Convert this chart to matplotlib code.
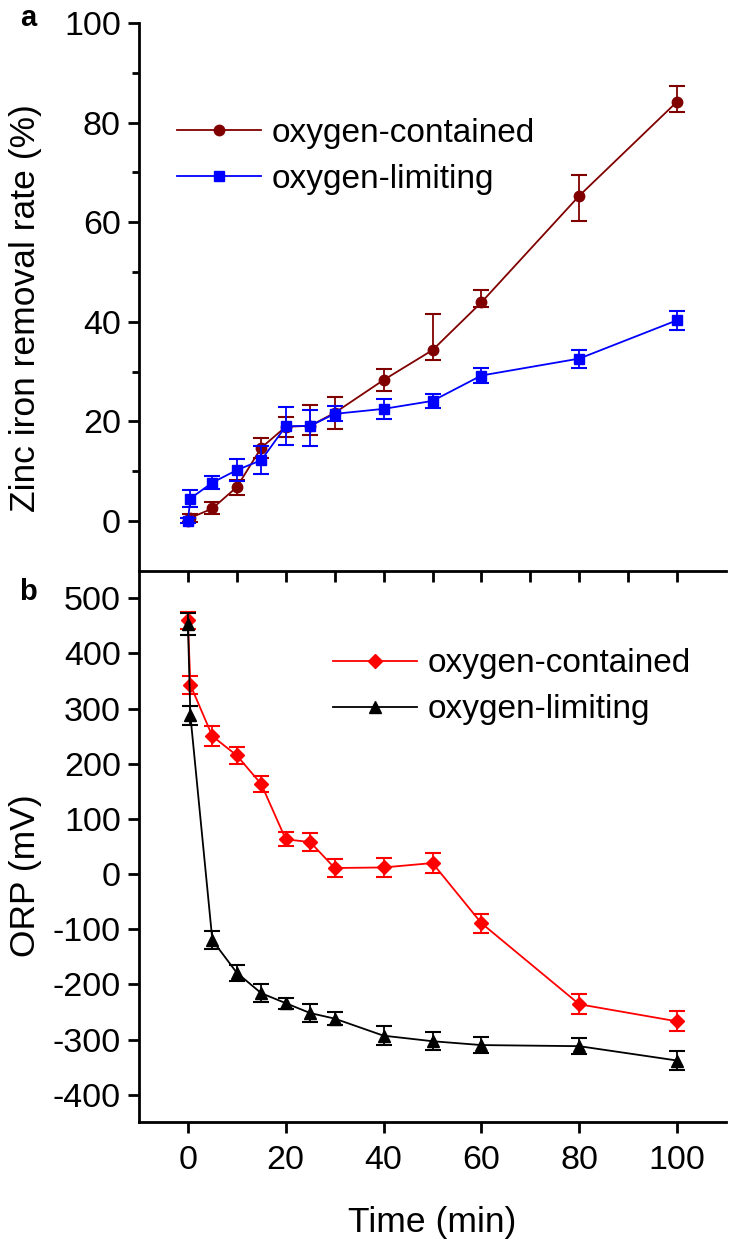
import matplotlib
matplotlib.use("Agg")
import matplotlib.pyplot as plt
from matplotlib.ticker import MultipleLocator, FixedLocator

plt.rcParams['font.family'] = ['Liberation Sans', 'DejaVu Sans']
plt.rcParams['axes.unicode_minus'] = False

# ---- data ----
time_min = [0, 0.5, 5, 10, 15, 20, 25, 30, 40, 50, 60, 80, 100]

zn_contained = [0, 0.6, 2.5, 6.8, 14.7, 18.9, 19.1, 21.7, 28.3, 34.3, 43.9, 65.3, 84.2]
zn_contained_err_lo = [0.5, 0.8, 1.2, 1.5, 2.0, 2.0, 1.8, 3.3, 2.2, 2.0, 0.9, 5.0, 2.0]
zn_contained_err_hi = [0.5, 0.8, 1.2, 1.5, 2.0, 2.0, 4.1, 3.2, 2.2, 7.2, 2.5, 4.2, 3.1]

zn_limiting = [0, 4.5, 7.7, 10.2, 12.2, 19.0, 19.1, 21.5, 22.5, 24.1, 29.2, 32.6, 40.3]
zn_limiting_err_lo = [0.5, 1.7, 1.3, 2.2, 2.8, 3.8, 4.1, 1.5, 2.0, 1.4, 1.5, 1.8, 1.9]
zn_limiting_err_hi = [0.5, 1.7, 1.3, 2.2, 2.8, 3.8, 3.2, 1.5, 2.0, 1.4, 1.5, 1.8, 1.9]

orp_contained = [460, 343, 250, 215, 163, 63, 58, 11, 12, 20, -89, -236, -267]
orp_contained_err = [16, 16, 18, 16, 15, 13, 17, 16, 17, 18, 17, 18, 18]

orp_limiting = [454, 288, -120, -179, -216, -234, -252, -262, -293, -303, -310, -312, -338]
orp_limiting_err = [20, 17, 16, 15, 16, 10, 17, 12, 17, 16, 15, 15, 17]

series_labels = ['oxygen-contained', 'oxygen-limiting']
x_ticks = [0, 20, 40, 60, 80, 100]
x_ticks_top = [0, 10, 20, 30, 40, 50, 60, 70, 80, 90, 100]

FS_TICK = 24.5
FS_LAB = 25.5
FS_LEG = 24
W, H = 733, 1244
fig = plt.figure(figsize=(W / 100, H / 100), dpi=100)

L = 139 / W
R = 726 / W
top_a = 1 - 23 / H
sep = 1 - 570.7 / H
bot_b = 1 - 1122.3 / H

ax1 = fig.add_axes([L, sep, R - L, top_a - sep])
ax2 = fig.add_axes([L, bot_b, R - L, sep - bot_b])
ax1.set_zorder(3)
ax1.patch.set_visible(False)
ax2.patch.set_visible(False)

lw = 1.3
cap = 5.5
for ax in (ax1, ax2):
    for s in ('top', 'right'):
        ax.spines[s].set_visible(False)
    for s in ('left', 'bottom'):
        ax.spines[s].set_linewidth(2.0)
    ax.tick_params(which='major', direction='out', length=8, width=2.0,
                   labelsize=FS_TICK, pad=5)
    ax.tick_params(which='minor', direction='out', length=5, width=2.0)
    ax.set_xlim(-10, 110)

# ---- panel a ----
ax1.errorbar(time_min, zn_contained, yerr=[zn_contained_err_lo, zn_contained_err_hi],
             fmt='none', ecolor='#800000', elinewidth=lw, capsize=cap, capthick=1.5, zorder=2)
ax1.plot(time_min, zn_contained, color='#800000', lw=lw, marker='o', ms=7.5,
         label=series_labels[0], zorder=3)
ax1.errorbar(time_min, zn_limiting, yerr=[zn_limiting_err_lo, zn_limiting_err_hi],
             fmt='none', ecolor='#0000FF', elinewidth=lw, capsize=cap, capthick=1.5, zorder=4)
ax1.plot(time_min, zn_limiting, color='#0000FF', lw=lw, marker='s', ms=6.5,
         label=series_labels[1], zorder=5)
ax1.set_ylim(-10, 100)
ax1.yaxis.set_major_locator(FixedLocator([0, 20, 40, 60, 80, 100]))
ax1.yaxis.set_minor_locator(FixedLocator([10, 30, 50, 70, 90]))
ax1.xaxis.set_major_locator(FixedLocator(x_ticks_top))
ax1.tick_params(axis='x', labelbottom=False, length=8)
ax1.set_ylabel('Zinc iron removal rate (%)', fontsize=FS_LAB)
ax1.yaxis.set_label_coords(-0.165, 0.48)
ax1.legend(loc='upper left', bbox_to_anchor=(0.064, 0.827), frameon=False,
           fontsize=FS_LEG, handlelength=2.52, handletextpad=0.33, labelspacing=0.45,
           borderpad=0, borderaxespad=0, numpoints=1)

# ---- panel b ----
ax2.errorbar(time_min, orp_contained, yerr=orp_contained_err,
             fmt='none', ecolor='#FF0000', elinewidth=lw, capsize=cap, capthick=1.5, zorder=2)
ax2.plot(time_min, orp_contained, color='#FF0000', lw=lw, marker='D', ms=7.5,
         label=series_labels[0], zorder=3)
ax2.errorbar(time_min, orp_limiting, yerr=orp_limiting_err,
             fmt='none', ecolor='black', elinewidth=lw, capsize=cap, capthick=1.5, zorder=4)
ax2.plot(time_min, orp_limiting, color='black', lw=lw, marker='^', ms=8,
         label=series_labels[1], zorder=5)
ax2.set_ylim(-450, 550)
ax2.yaxis.set_major_locator(MultipleLocator(100))
ax2.xaxis.set_major_locator(FixedLocator(x_ticks))
ax2.tick_params(axis='x', pad=8)
ax2.set_ylabel('ORP (mV)', fontsize=FS_LAB)
ax2.yaxis.set_label_coords(-0.165, 0.448)
ax2.set_xlabel('Time (min)', fontsize=FS_LAB, labelpad=22)
ax2.legend(loc='upper left', bbox_to_anchor=(0.33, 0.859), frameon=False,
           fontsize=FS_LEG, handlelength=2.52, handletextpad=0.33, labelspacing=0.45,
           borderpad=0, borderaxespad=0, numpoints=1)

fig.text(28 / W, 1 - 18 / H, 'a', fontsize=21, fontweight='bold', ha='center', va='center')
fig.text(28 / W, 1 - 592 / H, 'b', fontsize=21, fontweight='bold', ha='center', va='center')

fig.savefig('out.png', dpi=100)
